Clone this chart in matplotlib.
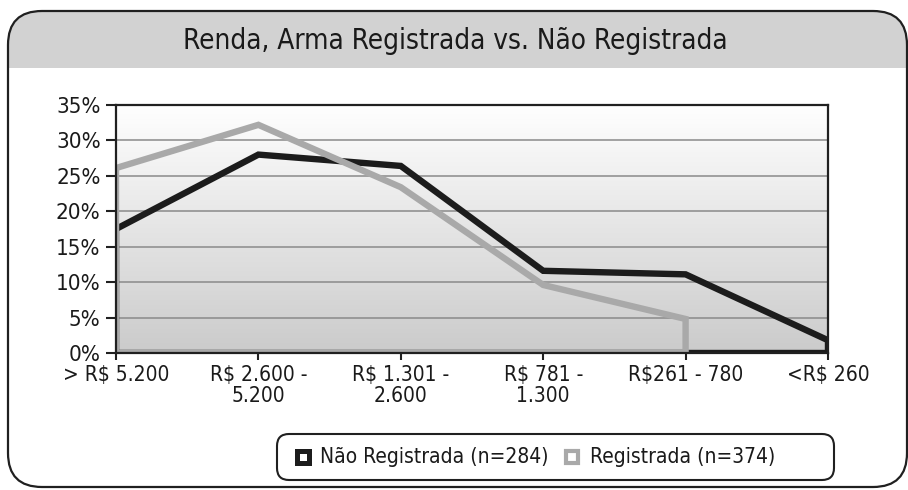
import matplotlib.pyplot as plt
import numpy as np
from matplotlib.patches import FancyBboxPatch, Rectangle
from matplotlib.colors import LinearSegmentedColormap

# faixas de renda (eixo x)
faixas = ["> R$ 5.200", "R$ 2.600 -\n5.200", "R$ 1.301 -\n2.600",
          "R$ 781 -\n1.300", "R$261 - 780", "<R$ 260"]
# percentuais
nao_registrada = [17.5, 28.0, 26.4, 11.6, 11.1, 1.8]
registrada = [26.1, 32.2, 23.4, 9.6, 4.8]   # sem valor na ultima faixa
y_ticks = [0, 5, 10, 15, 20, 25, 30, 35]

titulo = "Renda, Arma Registrada vs. Não Registrada"
legenda = ["Não Registrada (n=284)", "Registrada (n=374)"]

cor_preta = "#1c1c1c"
cor_cinza = "#a9a9a9"

plt.rcParams['font.family'] = ['DejaVu Sans']
plt.rcParams['font.stretch'] = 'condensed'

fig = plt.figure(figsize=(9.08, 4.9), dpi=100)

# eixo de fundo em pixels para moldura, titulo e legenda
bg = fig.add_axes([0, 0, 1, 1], zorder=0)
bg.set_xlim(0, 908)
bg.set_ylim(490, 0)
bg.axis('off')

moldura = FancyBboxPatch((8, 11), 899, 476, boxstyle="round,pad=0,rounding_size=34",
                         fc="white", ec="none")
bg.add_patch(moldura)
faixa = Rectangle((0, 0), 908, 68, fc="#d2d2d2", ec="none")
faixa.set_clip_path(moldura)
bg.add_patch(faixa)
bg.add_patch(FancyBboxPatch((8, 11), 899, 476, boxstyle="round,pad=0,rounding_size=34",
                            fc="none", ec="#202020", lw=1.6))
bg.text(455, 41, titulo, ha='center', va='center', fontsize=20, color="#1a1a1a")

# legenda
bg.add_patch(FancyBboxPatch((277, 434), 557, 46, boxstyle="round,pad=0,rounding_size=12",
                            fc="white", ec="#202020", lw=1.5))
bg.plot([303], [457], marker='s', ms=8.5, mfc='white', mec=cor_preta, mew=3.6)
bg.text(320, 457, legenda[0], ha='left', va='center', fontsize=15, color="#1a1a1a")
bg.plot([572], [457], marker='s', ms=8.5, mfc='white', mec=cor_cinza, mew=3.0)
bg.text(590, 457, legenda[1], ha='left', va='center', fontsize=15, color="#1a1a1a")

# area do grafico
ax = fig.add_axes([116 / 908, 1 - 353 / 490, 712 / 908, 248 / 490], zorder=1)
ax.patch.set_visible(False)
x = np.arange(len(faixas))
ax.set_xlim(0, len(faixas) - 1)
ax.set_ylim(0, 35)

cmap = LinearSegmentedColormap.from_list("fundo", ["#ffffff", "#cbcbcb"])
ax.imshow(np.linspace(0, 1, 256).reshape(-1, 1), cmap=cmap, extent=[0, 5, 0, 35],
          aspect='auto', zorder=0)

for v in y_ticks[1:-1]:
    ax.axhline(v, color="#8a8a8a", lw=1.1, zorder=1)

# contorno das areas (linha + fechamento na base)
xn = x[:len(nao_registrada)]
ax.plot(np.r_[xn[0], xn, xn[-1], xn[0]], np.r_[0, nao_registrada, 0, 0], color=cor_preta,
        lw=4.6, solid_joinstyle='miter', zorder=3)
xr = x[:len(registrada)]
ax.plot(np.r_[xr[0], xr, xr[-1], xr[0]], np.r_[0, registrada, 0, 0], color=cor_cinza,
        lw=4.6, solid_joinstyle='miter', zorder=4)

ax.set_yticks(y_ticks)
ax.set_yticklabels([f"{v}%" for v in y_ticks], fontsize=16, color="#1a1a1a")
ax.set_xticks(x)
ax.set_xticklabels(faixas, fontsize=15, color="#1a1a1a", linespacing=1.05)
ax.tick_params(axis='y', length=7, width=1.5, color="#202020", pad=4)
ax.tick_params(axis='x', length=5, width=1.5, color="#202020", pad=4)
for s in ax.spines.values():
    s.set_color("#202020")
    s.set_linewidth(1.6)
    s.set_zorder(5)

fig.savefig("out.png", dpi=100)
